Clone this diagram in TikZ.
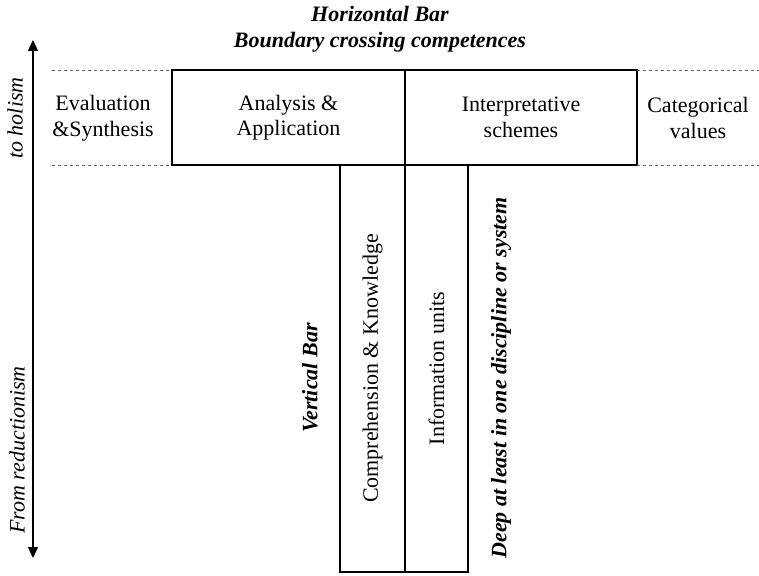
\documentclass[tikz,border=0pt]{standalone}
\usepackage{fontspec}
\setmainfont{Liberation Serif}
\usetikzlibrary{positioning, arrows.meta, calc}

\begin{document}
\begin{tikzpicture}[x=1pt, y=-1pt,
                bar/.style={draw=black, line width=1.4pt, rectangle, inner sep=0pt, outer sep=0pt, font=\fontsize{22}{25.5}\selectfont, align=center},
                plain/.style={font=\fontsize{22}{25.5}\selectfont, align=center},
                heading/.style={font=\fontsize{22}{26}\selectfont\bfseries\itshape, align=center},
                sidelabel/.style={font=\fontsize{22}{26}\selectfont\itshape, rotate=90},
                guide/.style={dashed, dash pattern=on 3pt off 3pt, thin, gray!80!black},
                axis/.style={line width=1.4pt, {Triangle[length=11pt,width=10pt]}-{Triangle[length=11pt,width=10pt]}}
            ]
            \useasboundingbox (0,0) rectangle (759,575);

            % Titel
            \node[heading] (htitle) at (380,29) {Horizontal Bar\\Boundary crossing competences};

            % horizontaler Balken
            \node[bar, minimum width=233pt, minimum height=95pt] (analysis) at (288.5,117.5) {Analysis \&\\Application};
            \node[bar, minimum width=232pt, minimum height=95pt] (interp) at (521,117.5) {Interpretative\\schemes};

            % vertikaler Balken
            \node[bar, rotate=90, minimum width=407pt, minimum height=65pt] (compr) at (372.5,368.5) {Comprehension \& Knowledge};
            \node[bar, rotate=90, minimum width=407pt, minimum height=63pt] (info) at (436.5,368.5) {Information units};

            % Seitentexte
            \node[plain] (eval) at (103,118) {Evaluation\\\&Synthesis};
            \node[plain] (categ) at (698,118) {Categorical\\values};
            \node[heading, rotate=90] (vbar) at (310,378) {Vertical Bar};
            \node[heading, rotate=90] (deep) at (501,378) {Deep at least in one discipline or system};

            % gestrichelte Linien
            \coordinate (lt) at (52,70);
            \coordinate (lb) at (52,165);
            \coordinate (rt) at (759,70);
            \coordinate (rb) at (759,165);
            \draw[guide] (lt) -- (analysis.north west);
            \draw[guide] (lb) -- (analysis.south west);
            \draw[guide] (interp.north east) -- (rt);
            \draw[guide] (interp.south east) -- (rb);

            % Achse
            \coordinate (atop) at (33,40);
            \coordinate (abot) at (33,558);
            \draw[axis] (abot) -- (atop);
            \node[sidelabel] (holism) at (15,118) {to holism};
            \node[sidelabel] (reduct) at (17,450) {From reductionism};

        \end{tikzpicture}
\end{document}
